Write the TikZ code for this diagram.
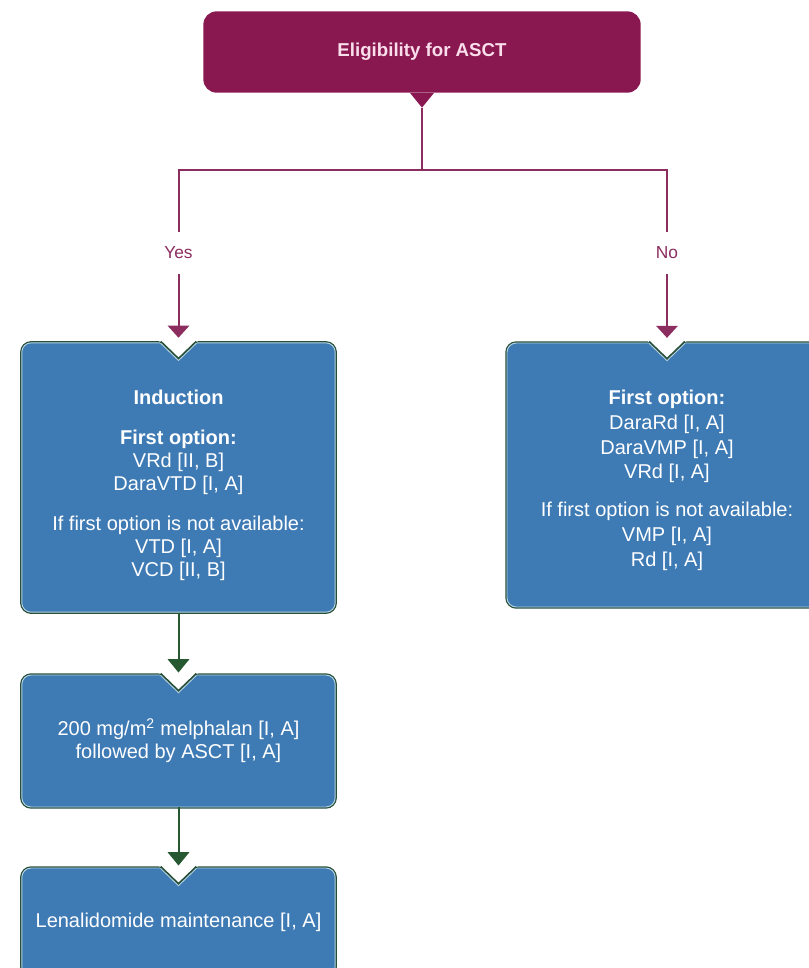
\documentclass[tikz,border=0pt]{standalone}
\usepackage{fontspec}
\setmainfont{Liberation Sans}
\usepackage{tikz}
\usetikzlibrary{arrows.meta}

\definecolor{eligred}{RGB}{137,24,80}
\definecolor{eligtext}{RGB}{250,222,236}
\definecolor{wirered}{RGB}{140,45,95}
\definecolor{boxblue}{RGB}{62,122,180}
\definecolor{boxedge}{RGB}{38,80,58}
\definecolor{boxrim}{RGB}{180,208,226}
\definecolor{flowgreen}{RGB}{38,88,50}

\tikzset{
    eligbox/.style={rectangle, rounded corners=10pt, fill=eligred, text=eligtext,
        minimum width=328pt, minimum height=61pt, font=\fontsize{14}{16}\selectfont\bfseries},
    treatbox/.style={rectangle, rounded corners=7pt, fill=boxblue, draw=boxrim, line width=0.7pt,
        preaction={draw=boxedge, line width=2.6pt}, text=white, align=center,
        minimum width=235pt, inner sep=0pt, font=\fontsize{15}{17.5}\selectfont},
    answer/.style={text=wirered, inner xsep=2pt, inner ysep=11pt, font=\fontsize{13}{15}\selectfont},
    wire/.style={draw=wirered, line width=1.5pt},
    flow/.style={draw=flowgreen, line width=1.5pt, -{Triangle[width=16pt,length=10pt]}, shorten >=1.5pt}
}

\newcommand{\notchat}[1]{%
    \fill[white] ([xshift=-15.5pt,yshift=2pt]#1.north) -- ([yshift=-13pt]#1.north)
        -- ([xshift=15.5pt,yshift=2pt]#1.north) -- cycle;
    \draw[boxedge, line width=1.6pt] ([xshift=-13.5pt,yshift=0.6pt]#1.north) -- ([yshift=-12.4pt]#1.north)
        -- ([xshift=13.5pt,yshift=0.6pt]#1.north);
    \draw[boxrim, line width=0.7pt] ([xshift=-13.5pt,yshift=-0.6pt]#1.north) -- ([yshift=-13.6pt]#1.north)
        -- ([xshift=13.5pt,yshift=-0.6pt]#1.north);
}

\begin{document}
\begin{tikzpicture}[x=0.75pt, y=-0.75pt]

    \useasboundingbox (0,0) rectangle (808,968);

    \node[eligbox] (elig) at (422,52) {Eligibility for ASCT};
    \fill[eligred] ([xshift=-9pt]elig.south) -- ([yshift=-11pt]elig.south) -- ([xshift=9pt]elig.south) -- cycle;
    \coordinate (tip) at ([yshift=-11pt]elig.south);
    \coordinate (split) at (422,170);

    \node[treatbox, minimum height=202pt] (induct) at (178.5,477.5)
    {\rule{0pt}{23pt}\textbf{Induction}\\[12pt]
     \textbf{First option:}\\
     VRd [II, B]\\
     DaraVTD [I, A]\\[12pt]
     If first option is not available:\\
     VTD [I, A]\\
     VCD [II, B]};

    \node[treatbox, minimum width=240pt, minimum height=198pt] (noasct) at (667,475)
    {\rule{0pt}{19pt}\textbf{First option:}\\[1pt]
     DaraRd [I, A]\\[1pt]
     DaraVMP [I, A]\\[1pt]
     VRd [I, A]\\[11pt]
     If first option is not available:\\[1pt]
     VMP [I, A]\\[1pt]
     Rd [I, A]};

    \node[treatbox, minimum height=99pt] (melph) at (178.5,741)
    {200 mg/m\textsuperscript{2} melphalan [I, A]\\
     followed by ASCT [I, A]};

    \node[treatbox, minimum height=81pt] (lenal) at (178.5,922)
    {Lenalidomide maintenance [I, A]};

    \notchat{induct}
    \notchat{noasct}
    \notchat{melph}
    \notchat{lenal}

    \node[answer] (yes) at (178.5,253) {Yes};
    \node[answer] (no) at (667,253) {No};

    \draw[wire] (tip) -- (split);
    \draw[wire] (yes) -- (yes |- split) -- (no |- split) -- (no);
    \draw[wire, -{Triangle[width=16pt,length=9pt]}, shorten >=3.5pt] (yes) -- (induct);
    \draw[wire, -{Triangle[width=16pt,length=9pt]}, shorten >=3.5pt] (no) -- (noasct);

    \draw[flow] (induct) -- (melph);
    \draw[flow] (melph) -- (lenal);

\end{tikzpicture}
\end{document}
